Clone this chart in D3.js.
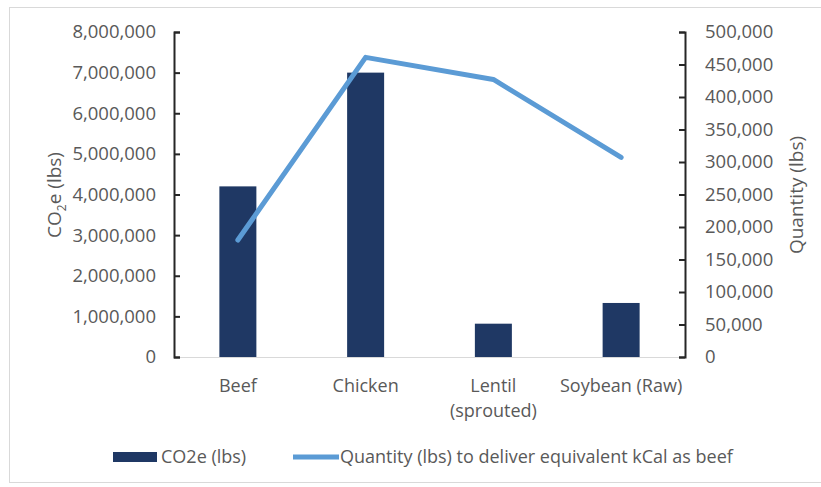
<!DOCTYPE html>
<html>
<head>
<meta charset="utf-8">
<script src="https://cdn.jsdelivr.net/npm/d3@7"></script>
<style>
  body { margin: 0; background: #fff; }
  text { font-family: "Open Sans", sans-serif; fill: #595959; }
</style>
</head>
<body>
<svg width="821" height="487"></svg>
<script>
const categories = ["Beef", "Chicken", "Lentil (sprouted)", "Soybean (Raw)"];
const catLines = [["Beef"], ["Chicken"], ["Lentil", "(sprouted)"], ["Soybean (Raw)"]];
const co2e = [4200000, 7000000, 820000, 1330000];
const quantity = [180000, 461000, 427000, 307000];
const leftTicks = [0, 1000000, 2000000, 3000000, 4000000, 5000000, 6000000, 7000000, 8000000];
const rightTicks = [0, 50000, 100000, 150000, 200000, 250000, 300000, 350000, 400000, 450000, 500000];

const svg = d3.select("svg");
const width = +svg.attr("width");
const height = +svg.attr("height");
const margin = { top: 32, left: 174, right: 136, bottom: 130 };

// chart frame
svg.append("rect")
  .attr("x", 9.5).attr("y", 7.5)
  .attr("width", width).attr("height", 475)
  .attr("fill", "none").attr("stroke", "#d9d9d9");

const innerW = width - margin.left - margin.right;
const innerH = height - margin.top - margin.bottom;

const x = d3.scaleBand().domain(categories).range([0, innerW]);
const yL = d3.scaleLinear().domain([0, 8000000]).range([innerH, 0]);
const yR = d3.scaleLinear().domain([0, 500000]).range([innerH, 0]);

const g = svg.append("g").attr("transform", `translate(${margin.left},${margin.top})`);
const fmt = d3.format(",");

// baseline
g.append("line")
  .attr("x1", 0).attr("x2", innerW)
  .attr("y1", innerH + 0.5).attr("y2", innerH + 0.5)
  .attr("stroke", "#d9d9d9");

// bars
const barW = 37;
g.selectAll("rect.bar")
  .data(co2e)
  .enter()
  .append("rect")
  .attr("class", "bar")
  .attr("x", (d, i) => x(categories[i]) + x.bandwidth() / 2 - barW / 2)
  .attr("y", d => yL(d))
  .attr("width", barW)
  .attr("height", d => innerH - yL(d))
  .attr("fill", "#1f3864");

// line
const line = d3.line()
  .x((d, i) => x(categories[i]) + x.bandwidth() / 2)
  .y(d => yR(d));
g.append("path")
  .datum(quantity)
  .attr("d", line)
  .attr("fill", "none")
  .attr("stroke", "#5b9bd5")
  .attr("stroke-width", 5)
  .attr("stroke-linejoin", "round")
  .attr("stroke-linecap", "round");

// left axis
const axL = g.append("g")
  .call(d3.axisLeft(yL).tickValues(leftTicks).tickFormat(fmt).tickSizeInner(-6).tickSizeOuter(-6).tickPadding(18));
axL.selectAll("path, line").attr("stroke", "#262626").attr("stroke-width", 2);
axL.selectAll("text").style("font-size", "18.5px").attr("fill", "#595959");

// right axis
const axR = g.append("g")
  .attr("transform", `translate(${innerW},0)`)
  .call(d3.axisRight(yR).tickValues(rightTicks).tickFormat(fmt).tickSizeInner(-6).tickSizeOuter(-6).tickPadding(20));
axR.selectAll("path, line").attr("stroke", "#262626").attr("stroke-width", 2);
axR.selectAll("text").style("font-size", "18.5px").attr("fill", "#595959");

// category labels
catLines.forEach((lines, i) => {
  const t = g.append("text")
    .attr("x", x(categories[i]) + x.bandwidth() / 2)
    .attr("y", innerH + 35)
    .attr("text-anchor", "middle")
    .style("font-size", "18px");
  lines.forEach((s, j) => {
    t.append("tspan")
      .attr("x", x(categories[i]) + x.bandwidth() / 2)
      .attr("dy", j === 0 ? 0 : 25)
      .text(s);
  });
});

// axis titles
const tl = svg.append("text")
  .attr("transform", `translate(61,195) rotate(-90)`)
  .attr("text-anchor", "middle")
  .style("font-size", "19px");
tl.append("tspan").text("CO");
tl.append("tspan").attr("dy", 5).style("font-size", "12px").text("2");
tl.append("tspan").attr("dy", -5).text("e (lbs)");

svg.append("text")
  .attr("transform", `translate(803,195) rotate(-90)`)
  .attr("text-anchor", "middle")
  .style("font-size", "19px")
  .text("Quantity (lbs)");

// legend
const leg = svg.append("g");
leg.append("rect")
  .attr("x", 113).attr("y", 452).attr("width", 44).attr("height", 10)
  .attr("fill", "#1f3864");
leg.append("text")
  .attr("x", 161).attr("y", 463)
  .style("font-size", "18px")
  .text("CO2e (lbs)");
leg.append("line")
  .attr("x1", 293).attr("x2", 339).attr("y1", 457).attr("y2", 457)
  .attr("stroke", "#5b9bd5").attr("stroke-width", 5);
leg.append("text")
  .attr("x", 340).attr("y", 463)
  .style("font-size", "18px")
  .text("Quantity (lbs) to deliver equivalent kCal as beef");
</script>
</body>
</html>
